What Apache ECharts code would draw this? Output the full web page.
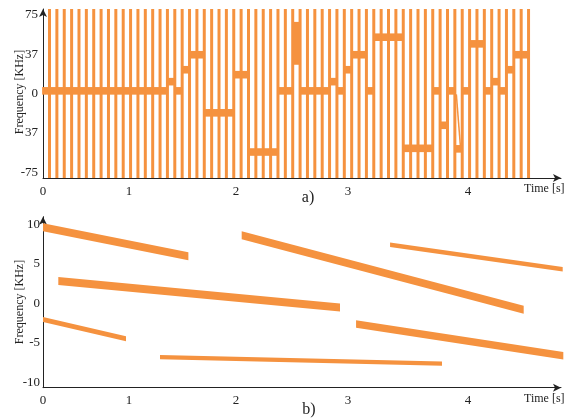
<!DOCTYPE html>
<html>
<head>
<meta charset="utf-8">
<script src="https://cdn.jsdelivr.net/npm/echarts@6/dist/echarts.min.js"></script>
<style>
  html, body { margin: 0; padding: 0; background: #fff; }
  #chart { width: 565px; height: 420px; }
</style>
</head>
<body>
<div id="chart"></div>
<script>
// --- panel a): one frequency dash per time slot (KHz) ---
const slotFreq = [
  2.5, 2.5, 2.5, 2.5, 2.5, 2.5, 2.5, 2.5, 2.5, 2.5, 2.5, 2.5, 2.5, 2.5, 2.5, 2.5, 2.5,
  11.2, 2.5, 22.5, 36.7, 36.7, -18.3, -18.3, -18.3, -18.3, 17.8, 17.8,
  -55.4, -55.4, -55.4, -55.4, 2.5, 2.5, null, 2.5, 2.5, 2.5, 2.5,
  11.2, 2.5, 22.5, 36.7, 36.7, 2.5, 53.3, 53.3, 53.3, 53.3,
  -51.9, -51.9, -51.9, -51.9, 2.5, -30.1, 2.5, -52.4, 2.5, 47, 47,
  2.5, 11.2, 2.5, 22.5, 36.7, 36.7
];
// slots are sampled on a regular clock (s)
const firstSlot = 0.0612;
const slotStep = 0.06936;

// slot that sweeps over a frequency range instead of a single dash
const sweepSlot = [34];
const sweepLow = [30.8];
const sweepHigh = [64.2];

// thin jump between two dashes
const linkTime = [3.89, 3.93];
const linkFreq = [-0.8, -51.9];

// --- panel b): linear chirps (start / end time and frequency) ---
const chirpT0 = [0, 1.87, 0.144, 0, 1.101, 2.946, 3.266];
const chirpF0 = [9.67, 8.65, 2.84, -2.05, -6.83, -2.62, 7.45];
const chirpT1 = [1.368, 4.524, 2.795, 0.781, 3.755, 4.897, 4.891];
const chirpF1 = [5.98, -0.8, -0.52, -4.48, -7.65, -6.65, 4.34];

// tick labels
const timeTicks = [0, 0.809, 1.816, 2.871, 4.0];
const timeTickLabels = ['0', '1', '2', '3', '4'];
const freqTicksA = [-75, -37, 0, 37, 75];
const freqTickLabelsA = ['-75', '37', '0', '37', '75'];
const freqTicksB = [-10, -5, 0, 5, 10];
const freqTickLabelsB = ['-10', '-5', '0', '5', '10'];

// styles
const ORANGE = '#F5923F';
const AXIS_COLOR = '#222';
const FONT = '"Liberation Serif", "DejaVu Serif", serif';
const chirpWidthPx = [8, 8, 8, 5, 4.3, 7.5, 4.5];
const TIME_MAX = 4.875;

const chart = echarts.init(document.getElementById('chart'), null, { renderer: 'canvas' });

const slotTime = j => firstSlot + j * slotStep;
const pickLabel = (ticks, labels) => v => {
    const i = ticks.findIndex(t => Math.abs(t - v) < 1e-6);
    return i >= 0 ? labels[i] : '';
};

const makeXAxis = (gridIndex, margin) => ({
    type: 'value',
    gridIndex,
    min: 0,
    max: TIME_MAX,
    axisLine: {
        show: true,
        onZero: false,
        symbol: ['none', 'arrow'],
        symbolSize: [6, 8],
        lineStyle: { color: AXIS_COLOR, width: 1 }
    },
    axisTick: { show: false },
    splitLine: { show: false },
    axisLabel: {
        customValues: timeTicks,
        formatter: pickLabel(timeTicks, timeTickLabels),
        margin,
        fontFamily: FONT,
        fontSize: 13,
        color: AXIS_COLOR
    }
});

const makeYAxis = (gridIndex, min, max, ticks, labels, margin) => ({
    type: 'value',
    gridIndex,
    min,
    max,
    axisLine: {
        show: true,
        onZero: false,
        symbol: ['none', 'arrow'],
        symbolSize: [6, 8],
        lineStyle: { color: AXIS_COLOR, width: 1 }
    },
    axisTick: { show: false },
    splitLine: { show: false },
    axisLabel: {
        customValues: ticks,
        formatter: pickLabel(ticks, labels),
        margin,
        fontFamily: FONT,
        fontSize: 13,
        color: AXIS_COLOR
    }
});

// data for the custom series
const barData = slotFreq.map((_, j) => [slotTime(j)]);
const dashData = [];
slotFreq.forEach((f, j) => {
    if (f !== null) dashData.push([slotTime(j - 1), slotTime(j), f]);
});
const sweepData = sweepSlot.map((j, k) => [slotTime(j - 1), slotTime(j), sweepLow[k], sweepHigh[k]]);
const chirpData = chirpT0.map((t, k) => [t, chirpF0[k], chirpT1[k], chirpF1[k]]);

const option = {
    backgroundColor: '#fff',
    animation: false,
    grid: [
        { left: 43, top: 9, width: 518, height: 169 },
        { left: 43, top: 216.7, width: 518, height: 171 }
    ],
    xAxis: [makeXAxis(0, 7), makeXAxis(1, 6)],
    yAxis: [
        makeYAxis(0, -80, 80, freqTicksA, freqTickLabelsA, 5),
        makeYAxis(1, -10.7, 11, freqTicksB, freqTickLabelsB, 3)
    ],
    series: [
        {
            // vertical slot markers spanning the whole band
            type: 'custom',
            xAxisIndex: 0,
            yAxisIndex: 0,
            clip: false,
            data: barData,
            renderItem: (params, api) => {
                const top = api.coord([api.value(0), 80]);
                const bottom = api.coord([api.value(0), -80]);
                return {
                    type: 'rect',
                    shape: { x: top[0] - 1.5, y: top[1], width: 3, height: bottom[1] - top[1] },
                    style: { fill: ORANGE }
                };
            }
        },
        {
            // frequency dash in each slot
            type: 'custom',
            xAxisIndex: 0,
            yAxisIndex: 0,
            clip: false,
            data: dashData,
            renderItem: (params, api) => {
                const a = api.coord([api.value(0), api.value(2)]);
                const b = api.coord([api.value(1), api.value(2)]);
                return {
                    type: 'rect',
                    shape: { x: a[0], y: a[1] - 3.8, width: b[0] - a[0], height: 7.6 },
                    style: { fill: ORANGE }
                };
            }
        },
        {
            type: 'custom',
            xAxisIndex: 0,
            yAxisIndex: 0,
            clip: false,
            data: sweepData,
            renderItem: (params, api) => {
                const a = api.coord([api.value(0), api.value(3)]);
                const b = api.coord([api.value(1), api.value(2)]);
                return {
                    type: 'rect',
                    shape: { x: a[0], y: a[1] - 3.8, width: b[0] - a[0], height: b[1] - a[1] + 7.6 },
                    style: { fill: ORANGE }
                };
            }
        },
        {
            type: 'line',
            xAxisIndex: 0,
            yAxisIndex: 0,
            data: linkTime.map((t, k) => [t, linkFreq[k]]),
            symbol: 'none',
            lineStyle: { color: ORANGE, width: 1.5 }
        },
        {
            // chirps drawn as bands with vertical ends
            type: 'custom',
            xAxisIndex: 1,
            yAxisIndex: 1,
            clip: false,
            data: chirpData,
            renderItem: (params, api) => {
                const p0 = api.coord([api.value(0), api.value(1)]);
                const p1 = api.coord([api.value(2), api.value(3)]);
                const h = chirpWidthPx[params.dataIndex] / 2;
                return {
                    type: 'polygon',
                    shape: {
                        points: [
                            [p0[0], p0[1] - h], [p1[0], p1[1] - h],
                            [p1[0], p1[1] + h], [p0[0], p0[1] + h]
                        ]
                    },
                    style: { fill: ORANGE }
                };
            }
        }
    ],
    graphic: [
        {
            type: 'text', x: 20, y: 92, rotation: Math.PI / 2,
            style: { text: 'Frequency [KHz]', font: '12px ' + FONT, fill: AXIS_COLOR, align: 'center', verticalAlign: 'middle' }
        },
        {
            type: 'text', x: 20, y: 302, rotation: Math.PI / 2,
            style: { text: 'Frequency [KHz]', font: '12px ' + FONT, fill: AXIS_COLOR, align: 'center', verticalAlign: 'middle' }
        },
        {
            type: 'text', x: 524, y: 188.5,
            style: { text: 'Time [s]', font: '12px ' + FONT, fill: AXIS_COLOR, align: 'left', verticalAlign: 'middle' }
        },
        {
            type: 'text', x: 524, y: 398.5,
            style: { text: 'Time [s]', font: '12px ' + FONT, fill: AXIS_COLOR, align: 'left', verticalAlign: 'middle' }
        },
        {
            type: 'text', x: 308, y: 198,
            style: { text: 'a)', font: '16px ' + FONT, fill: AXIS_COLOR, align: 'center', verticalAlign: 'middle' }
        },
        {
            type: 'text', x: 309, y: 410,
            style: { text: 'b)', font: '16px ' + FONT, fill: AXIS_COLOR, align: 'center', verticalAlign: 'middle' }
        }
    ]
};

chart.setOption(option);
</script>
</body>
</html>
